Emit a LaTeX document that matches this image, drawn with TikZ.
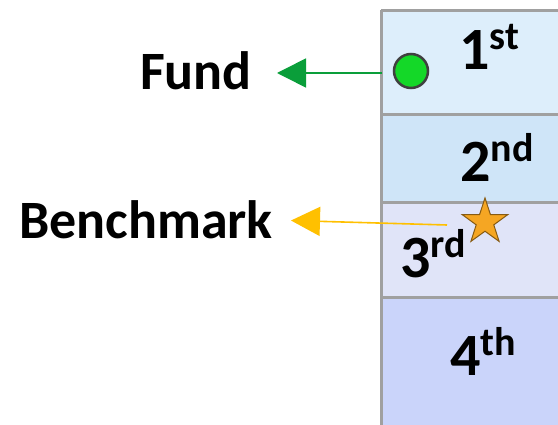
\documentclass[tikz,border=0pt]{standalone}
\usepackage{fontspec}
\setmainfont{Carlito}
\usetikzlibrary{arrows.meta,shapes.geometric}
\definecolor{bandA}{HTML}{DDEEFB}
\definecolor{bandB}{HTML}{CFE5F8}
\definecolor{bandC}{HTML}{E0E4F8}
\definecolor{bandD}{HTML}{CAD4FA}
\definecolor{rule}{HTML}{A0A0A0}
\definecolor{fundgreen}{HTML}{0A9E3A}
\definecolor{dotgreen}{HTML}{14D828}
\definecolor{benchgold}{HTML}{FFC000}
\definecolor{starorange}{HTML}{F5A623}
\newcommand\ordlabel[2]{#1\raisebox{0.34em}{\fontsize{40}{40}\selectfont #2}}
\tikzset{
  band/.style={fill=#1, draw=none},
  sep/.style={draw=rule, line width=3pt},
  label/.style={font=\fontsize{54}{58}\selectfont\bfseries, inner sep=0pt, text=black},
  ordinal/.style={font=\fontsize{60}{64}\selectfont\bfseries, inner sep=0pt, anchor=base west, text=black},
  pointer/.style={line width=1.6pt, draw=#1, -{Triangle[length=29pt,width=29pt,fill=#1]}},
}
\begin{document}
\begin{tikzpicture}[x=1pt,y=-1pt]
\useasboundingbox (0,0) rectangle (558,425);
\fill[white] (0,0) rectangle (558,425);
% bands
\path[band=bandA] (381,11) rectangle (570,115);
\path[band=bandB] (381,115) rectangle (570,203);
\path[band=bandC] (381,203) rectangle (570,298);
\path[band=bandD] (381,298) rectangle (570,430);
% separators
\draw[sep] (381,11) -- (570,11);
\draw[sep] (381,115) -- (570,115);
\draw[sep] (381,203) -- (570,203);
\draw[sep] (381,298) -- (570,298);
\draw[sep] (381,10) -- (381,430);
% ordinals
\node[ordinal] (o1) at (459,70) {\ordlabel{1}{st}};
\node[ordinal] (o2) at (460,182) {\ordlabel{2}{nd}};
\node[ordinal] (o3) at (400,278) {\ordlabel{3}{rd}};
\node[ordinal] (o4) at (450,376) {\ordlabel{4}{th}};
% markers
\node[circle, fill=dotgreen, draw=black!75, line width=2.5pt, minimum size=34pt, inner sep=0pt] (dot) at (411,71) {};
\node[star, star points=5, star point ratio=2.6, fill=starorange, draw=black!45!starorange, line width=1pt, minimum size=48pt, inner sep=0pt] (star) at (485,222) {};
% labels
\node[label, anchor=east] (fund) at (252,71) {Fund};
\node[label, anchor=east] (bench) at (273,220) {Benchmark};
% pointers
\coordinate (gstart) at (382,73);
\coordinate (ostart) at (447,225);
\draw[pointer=fundgreen, shorten >=25pt] (gstart) -- (gstart -| fund.east);
\draw[pointer=benchgold, shorten >=18pt] (ostart) -- (bench.east);
\end{tikzpicture}
\end{document}
